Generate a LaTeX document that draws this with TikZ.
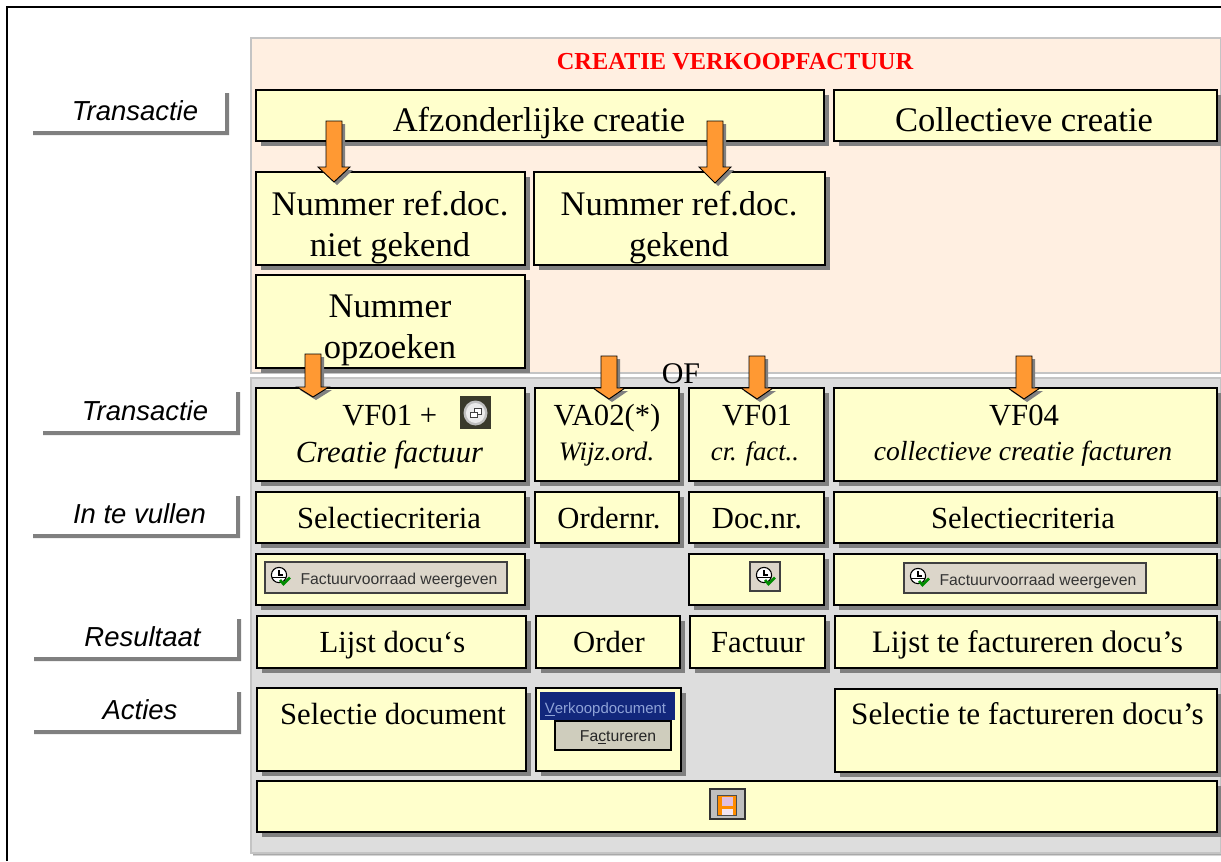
\documentclass[tikz,border=0pt]{standalone}
\usepackage{fontspec}
\setmainfont{Liberation Serif}
\setsansfont{Liberation Sans}
\usetikzlibrary{shadows}
\definecolor{boxfill}{HTML}{FFFFCC}
\definecolor{pinkpanel}{HTML}{FFEFE1}
\definecolor{greypanel}{HTML}{DDDDDD}
\definecolor{panelline}{HTML}{C4C4C4}
\definecolor{shade}{HTML}{808080}
\definecolor{arrowfill}{HTML}{FF9933}
\definecolor{btnfill}{HTML}{DCD6CA}
\definecolor{factfill}{HTML}{CFCDBD}
\definecolor{menublue}{HTML}{12277C}
\definecolor{menutext}{HTML}{8FA3D8}
\definecolor{iconedge}{HTML}{3A3A2C}
\tikzset{
  panelbox/.style={draw=panelline,line width=0.9pt,inner sep=0pt},
  boxshape/.style={draw=black,line width=0.8pt,fill=boxfill,inner sep=0pt,
    drop shadow={shadow xshift=3.4pt,shadow yshift=-3.7pt,fill=shade,opacity=1}},
  body/.style={anchor=base,inner sep=0pt,font=\fontsize{25.9}{30.75}\selectfont,align=center},
  mid/.style={anchor=base,inner sep=0pt,font=\fontsize{23}{27}\selectfont,align=center},
  midwide/.style={anchor=base,inner sep=0pt,font=\fontsize{23.4}{27}\selectfont,align=center},
  smallit/.style={anchor=base,inner sep=0pt,font=\fontsize{20}{24}\selectfont\itshape},
  sidelabel/.style={anchor=base,inner sep=0pt,font=\fontsize{20.6}{24}\selectfont\sffamily\itshape},
  blockarrow/.style={draw=black,line width=0.7pt,fill=arrowfill,line join=miter},
  arrowshadow/.style={fill=shade},
  barline/.style={fill=shade},
  btn/.style={draw=black!75,line width=0.8pt,fill=btnfill,inner sep=0pt},
  btntext/.style={anchor=base,inner sep=0pt,font=\fontsize{11.8}{13}\selectfont\sffamily,text=black!80},
}
% rectangle node given by pixel corners
\newcommand{\pxbox}[6]{%
  \pgfmathsetmacro{\wid}{(#5-#3)*0.75}\pgfmathsetmacro{\hei}{(#6-#4)*0.75}%
  \node[#2,minimum width=\wid pt,minimum height=\hei pt] (#1) at ({(#3+#5)/2},{(#4+#6)/2}) {};}
% block arrow: centre x, top y, y of head start, tip y
\newcommand{\blockarr}[5]{%
  \coordinate (#1) at (#2,#5);
  \fill[arrowshadow,shift={(3,3)}] (#2-8,#3)--(#2+8,#3)--(#2+8,#4)--(#2+16,#4)--(#2,#5)--(#2-16,#4)--(#2-8,#4)--cycle;
  \draw[blockarrow] (#2-8,#3)--(#2+8,#3)--(#2+8,#4)--(#2+16,#4)--(#2,#5)--(#2-16,#4)--(#2-8,#4)--cycle;}
% L-shaped bar of a side label: left x, top y, right x, bottom y
\newcommand{\sidebar}[4]{%
  \fill[barline] (#1,#4)--(#3,#4)--(#3,#2)--(#3-4,#2)--(#3-4,#4-4)--(#1,#4-4)--cycle;}
% clock icon with green check
\newcommand{\clockicon}[2]{%
  \draw[black,line width=0.8pt,fill=white] (#1,#2) circle (7.6);
  \draw[black,line width=0.8pt] (#1,#2-5)--(#1,#2)--(#1+4,#2);
  \draw[black,line width=0.5pt] (#1-7,#2+2)--(#1+7,#2+2);
  \draw[green!55!black,line width=2pt] (#1+1,#2+5)--(#1+4.5,#2+9)--(#1+11,#2+2.5);}
\begin{document}
\begin{tikzpicture}[x=0.75pt,y=-0.75pt]
\useasboundingbox (0,0) rectangle (1221,861);
\fill[white] (0,0) rectangle (1221,861);
\coordinate (frameBL) at (6.5,861);
\coordinate (frameTL) at (6.5,6.5);
\coordinate (frameTR) at (1221,6.5);
\draw[black,line width=1.5pt] (frameBL)--(frameTL)--(frameTR);

% panels
\pxbox{pink}{panelbox,fill=pinkpanel}{251}{38}{1220.5}{373}
\fill[shade] (253,853) rectangle (1221,856);
\pxbox{grey}{panelbox,fill=greypanel}{251}{378}{1220.5}{853}

% boxes
\pxbox{afz}{boxshape}{256}{90}{824}{141}
\pxbox{coll}{boxshape}{834}{90}{1217}{141}
\pxbox{niet}{boxshape}{256}{172}{525}{265}
\pxbox{gek}{boxshape}{534}{172}{825}{265}
\pxbox{opz}{boxshape}{256}{275}{525}{368}
\pxbox{vfa}{boxshape}{256}{388}{525}{481}
\pxbox{vab}{boxshape}{535}{388}{679}{481}
\pxbox{vfb}{boxshape}{689}{388}{824}{481}
\pxbox{vfc}{boxshape}{834}{388}{1217}{481}
\pxbox{sela}{boxshape}{256}{492}{525}{543}
\pxbox{ord}{boxshape}{535}{492}{679}{543}
\pxbox{doc}{boxshape}{689}{492}{824}{543}
\pxbox{selb}{boxshape}{834}{492}{1217}{543}
\pxbox{knopa}{boxshape}{256}{554}{525}{605}
\pxbox{knopb}{boxshape}{689}{554}{824}{605}
\pxbox{knopc}{boxshape}{834}{554}{1217}{605}
\pxbox{lija}{boxshape}{257}{616}{526}{668}
\pxbox{orde}{boxshape}{536}{616}{680}{668}
\pxbox{fact}{boxshape}{690}{616}{825}{668}
\pxbox{lijb}{boxshape}{835}{616}{1217}{668}
\pxbox{sda}{boxshape}{257}{688}{526}{771}
\pxbox{vkd}{boxshape}{536}{688}{681}{771}
\pxbox{sdb}{boxshape}{835}{689}{1217}{772}
\pxbox{save}{boxshape}{257}{781}{1217}{832}

% texts
\node[anchor=base,inner sep=0pt,text=red,font=\fontsize{18.3}{22}\selectfont\bfseries] (title) at (735,69) {CREATIE VERKOOPFACTUUR};
\node[body] (tafz) at (539,131) {Afzonderlijke creatie};
\node[body] (tcoll) at (1024,131) {Collectieve creatie};
\node[body] (tniet) at (390,256) {Nummer ref.doc.\\niet gekend};
\node[body] (tgek) at (679,256) {Nummer ref.doc.\\gekend};
\node[body] (topz) at (390,358) {Nummer\\opzoeken};
\node[anchor=base,inner sep=0pt,font=\fontsize{22.5}{27}\selectfont] (tof) at (681,383) {OF};

\node[mid,anchor=base west] (tvfa) at (342,425) {VF01 +};
\node[anchor=base,inner sep=0pt,font=\fontsize{23}{27}\selectfont\itshape] (tcf) at (389.5,462) {Creatie factuur};
\node[mid] (tvab) at (607,425) {VA02(*)};
\node[smallit] (twij) at (606.5,460) {Wijz.ord.};
\node[mid] (tvfb) at (757,425) {VF01};
\node[smallit] (tcr) at (755,460) {cr. fact..};
\node[mid] (tvfc) at (1024,425) {VF04};
\node[smallit,font=\fontsize{20.7}{24}\selectfont\itshape] (tcc) at (1023,460) {collectieve creatie facturen};

\node[mid] (tsela) at (389,528) {Selectiecriteria};
\node[mid] (tord) at (609,528) {Ordernr.};
\node[mid] (tdoc) at (757,528) {Doc.nr.};
\node[mid] (tselb) at (1023,528) {Selectiecriteria};
\node[mid] (tlija) at (392.5,652.5) {Lijst docu‘s};
\node[mid] (torde) at (609,652.5) {Order};
\node[mid] (tfact) at (758,652.5) {Factuur};
\node[midwide] (tlijb) at (1027.5,652.5) {Lijst te factureren docu’s};
\node[mid] (tsda) at (393,724.5) {Selectie document};
\node[midwide] (tsdb) at (1027.5,724.5) {Selectie te factureren docu’s};

% side labels
\sidebar{33}{93}{229}{135}
\node[sidelabel] (s1) at (135,120) {Transactie};
\sidebar{43}{392}{240}{435}
\node[sidelabel] (s2) at (145,420) {Transactie};
\sidebar{33}{496}{240}{538}
\node[sidelabel] (s3) at (139.5,523) {In te vullen};
\sidebar{34}{619}{241}{661}
\node[sidelabel] (s4) at (142.5,646) {Resultaat};
\sidebar{34}{692}{241}{734}
\node[sidelabel] (s5) at (140,719) {Acties};

% arrows
\blockarr{a1}{334}{121}{167}{182}
\blockarr{a2}{715}{121}{167}{183}
\blockarr{a3}{313}{354}{387}{397}
\blockarr{a4}{609}{356}{388}{399}
\blockarr{a5}{757}{356}{388}{399}
\blockarr{a6}{1024}{356}{388}{399}

% window icon button
\pxbox{winbtn}{draw=iconedge,line width=0.8pt,fill=iconedge}{461}{397}{490}{428}
\fill[black!25] (475.5,413) ellipse (12 and 12.5);
\fill[black!8] (475.5,413) ellipse (9.5 and 10);
\draw[black!75,line width=0.7pt,fill=white] (474.5,408.5) rectangle (481,414);
\draw[black!75,line width=0.7pt,fill=white] (470.5,412) rectangle (477,417.5);

% Factuurvoorraad buttons
\pxbox{btna}{btn}{265}{562}{507}{593}
\clockicon{279}{575}
\node[btntext] (btnat) at (399,584) {Factuurvoorraad weergeven};
\pxbox{btnb}{btn}{904}{563}{1146}{593}
\clockicon{918}{576}
\node[btntext] (btnbt) at (1038,585) {Factuurvoorraad weergeven};
\pxbox{btnc}{btn}{750}{562}{780}{591}
\clockicon{764}{575}

% Verkoopdocument menu
\pxbox{menubar}{fill=menublue,inner sep=0pt}{540}{692}{675}{720}
\node[anchor=base,inner sep=0pt,text=menutext,font=\fontsize{11.2}{13}\selectfont\sffamily] (tmenu) at (605.5,713) {\underline{V}erkoopdocument};
\pxbox{factbtn}{draw=black,line width=0.9pt,fill=factfill,inner sep=0pt}{555}{721}{671}{750}
\node[anchor=base,inner sep=0pt,text=black!85,font=\fontsize{11.8}{13}\selectfont\sffamily] (tfactbtn) at (618,741) {Fa\underline{c}tureren};

% save icon
\pxbox{savebtn}{draw=black!80,line width=0.9pt,fill=black!25}{710}{789}{745}{819}
\fill[orange!90!yellow] (717.5,795) rectangle (736.5,815);
\fill[violet!25] (722,796.5) rectangle (732.5,806);
\fill[violet!10] (722,809) rectangle (732.5,814.5);
\draw[black!70,line width=0.6pt] (717.5,795) rectangle (736.5,815);
\end{tikzpicture}
\end{document}
